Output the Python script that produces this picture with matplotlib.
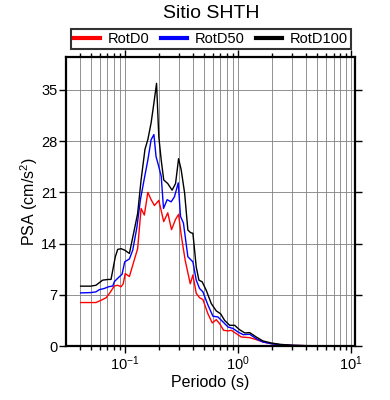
import matplotlib
matplotlib.use('agg')
import matplotlib.pyplot as plt

plt.rcParams['font.family'] = ['Liberation Sans', 'DejaVu Sans']
plt.rcParams['mathtext.fontset'] = 'custom'
plt.rcParams['mathtext.rm'] = 'Liberation Sans'
plt.rcParams['mathtext.it'] = 'Liberation Sans:italic'

# RotD100 (black)
period_d100 = [0.0408, 0.05, 0.0557, 0.0638, 0.0717, 0.0757, 0.0826, 0.0867, 0.0929, 0.1,
               0.110, 0.119, 0.130, 0.1395, 0.151, 0.160, 0.171, 0.181, 0.191, 0.2,
               0.210, 0.221, 0.240, 0.262, 0.281, 0.299, 0.315, 0.338, 0.361, 0.381,
               0.400, 0.428, 0.452, 0.483, 0.525, 0.581, 0.643, 0.703, 0.762, 0.844,
               0.934, 1.03, 1.15, 1.27, 1.45, 1.66, 1.97, 2.34, 3.07, 4.0, 6.0, 10.4]
psa_d100 = [8.18, 8.18, 8.3, 9.0, 9.1, 9.1, 12.2, 13.2, 13.3, 13.1,
            12.65, 15.2, 18.1, 22.7, 26.9, 28.2, 30.5, 33.2, 35.9, 28.6,
            25.4, 22.7, 22.2, 21.3, 22.2, 25.6, 24.1, 20.9, 15.85, 15.5,
            15.4, 10.8, 9.0, 8.77, 7.6, 5.8, 4.8, 4.4, 3.5, 2.83,
            2.83, 2.24, 1.78, 1.83, 1.23, 0.69, 0.41, 0.23, 0.09, 0.05, 0.02, 0.01]

# RotD50 (blue)
period_d50 = [0.0408, 0.05, 0.0557, 0.0597, 0.066, 0.072, 0.0785, 0.081, 0.0887, 0.0947,
              0.1, 0.110, 0.1177, 0.1277, 0.1376, 0.149, 0.160, 0.171, 0.181, 0.189,
              0.2, 0.210, 0.220, 0.237, 0.257, 0.275, 0.297, 0.311, 0.330, 0.361,
              0.400, 0.428, 0.458, 0.49, 0.543, 0.601, 0.665, 0.737, 0.816, 0.903,
              1.0, 1.11, 1.27, 1.45, 1.66, 1.97, 2.34, 3.07, 4.0, 6.0, 10.4]
psa_d50 = [7.26, 7.3, 7.4, 7.7, 7.86, 8.1, 8.2, 8.8, 9.4, 9.8,
           11.5, 11.9, 13.1, 16.1, 20.0, 22.9, 25.4, 28.2, 28.9, 25.9,
           24.5, 23.2, 18.8, 20.0, 19.7, 20.4, 22.3, 17.7, 16.8, 12.2,
           11.5, 9.0, 7.86, 7.4, 5.6, 4.07, 3.97, 3.3, 2.6, 2.4,
           1.92, 1.55, 1.6, 1.0, 0.55, 0.32, 0.18, 0.08, 0.04, 0.02, 0.01]

# RotD0 (red)
period_d0 = [0.0408, 0.0557, 0.062, 0.0686, 0.0734, 0.081, 0.0867, 0.0929, 0.097, 0.101,
             0.110, 0.119, 0.130, 0.1395, 0.149, 0.160, 0.171, 0.183, 0.2, 0.221,
             0.240, 0.259, 0.281, 0.299, 0.315, 0.342, 0.379, 0.400, 0.428, 0.458,
             0.49, 0.543, 0.593, 0.643, 0.688, 0.746, 0.816, 0.873, 0.966, 1.07,
             1.27, 1.45, 1.66, 1.97, 2.34, 3.07, 4.0, 6.0, 10.4]
psa_d0 = [5.94, 5.94, 6.26, 6.6, 7.2, 8.2, 8.3, 8.1, 8.5, 9.9,
          9.5, 11.3, 13.3, 18.8, 17.9, 21.0, 20.0, 19.2, 19.9, 17.0,
          18.2, 15.9, 17.3, 18.0, 15.2, 11.7, 8.5, 9.7, 7.2, 6.6,
          6.35, 4.4, 3.15, 3.6, 3.06, 2.15, 2.06, 2.15, 1.69, 1.23,
          1.14, 0.87, 0.55, 0.32, 0.18, 0.08, 0.04, 0.02, 0.01]

y_ticks = [0, 7, 14, 21, 28, 35]

fig = plt.figure(figsize=(3.9, 4.0), dpi=100)
ax = fig.add_axes([0.1692, 0.135, 0.7411, 0.7225])

ax.plot(period_d0, psa_d0, color='red', lw=1.0, label='RotD0')
ax.plot(period_d50, psa_d50, color='blue', lw=1.0, label='RotD50')
ax.plot(period_d100, psa_d100, color='black', lw=1.0, label='RotD100')

ax.set_xscale('log')
ax.set_xlim(0.0303, 10.8)
ax.set_ylim(0, 39.5)
ax.set_yticks(y_ticks)

ax.grid(True, which='major', axis='both', color='#808080', lw=0.6)
ax.grid(True, which='minor', axis='x', color='#808080', lw=0.6)
ax.set_axisbelow(True)

ax.tick_params(which='both', direction='out', top=True, right=True,
               labeltop=False, labelright=False, labelsize=10.5, width=1.0, pad=1.5)
ax.tick_params(which='major', length=4.8)
ax.tick_params(which='minor', length=3)
for sp in ax.spines.values():
    sp.set_linewidth(1.6)

ax.set_xlabel('Periodo (s)', fontsize=11.5, labelpad=1)
ax.set_ylabel('PSA (cm/s$^2$)', fontsize=11.5, labelpad=1)

leg = fig.legend(loc='center', ncol=3,
                 bbox_to_anchor=(211 / 390, 1 - 38.8 / 400),
                 fontsize=10.5, frameon=True, fancybox=False, handlelength=1.75,
                 borderpad=0.2, handletextpad=0.55, columnspacing=0.8)
leg.get_frame().set_edgecolor('black')
leg.get_frame().set_linewidth(1.5)
for line in leg.get_lines():
    line.set_linewidth(3)

fig.text(0.541, 0.965, 'Sitio SHTH', ha='center', va='center', fontsize=14)

fig.savefig('out.png', dpi=100)
